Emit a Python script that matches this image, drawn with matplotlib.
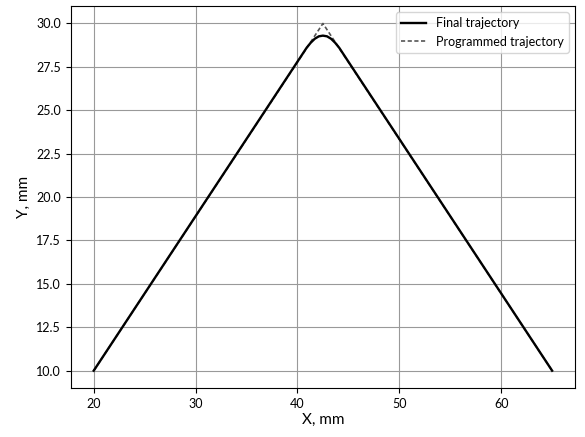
import matplotlib
matplotlib.use("Agg")
import matplotlib.pyplot as plt

plt.rcParams["font.family"] = ["Lato", "DejaVu Sans"]

# ── Datos ────────────────────────────────────────────────────────────────────
prog_x = [20.0, 42.5, 65.0]
prog_y = [10.0, 30.0, 10.0]

final_x = [20.0, 40.9, 41.3, 41.7, 42.1, 42.5, 42.9, 43.3, 43.7, 44.1, 65.0]
final_y = [10.0, 28.60, 28.89, 29.12, 29.26, 29.30, 29.26, 29.12, 28.89, 28.60, 10.0]

y_ticks = [10.0, 12.5, 15.0, 17.5, 20.0, 22.5, 25.0, 27.5, 30.0]

# ── Grafico ──────────────────────────────────────────────────────────────────
fig = plt.figure(figsize=(5.85, 4.37), dpi=100)
ax = fig.add_axes([0.121, 0.112, 0.862, 0.874])

ax.plot(final_x, final_y, color="black", linewidth=1.7, label="Final trajectory", zorder=3)
ax.plot(prog_x, prog_y, color="#555555", linewidth=1.2, linestyle="--",
        dashes=(2.5, 1.5), label="Programmed trajectory", zorder=2)

ax.set_xlabel("X, mm", fontsize=11, labelpad=2)
ax.set_ylabel("Y, mm", fontsize=11)
ax.set_yticks(y_ticks)
ax.tick_params(labelsize=9)
ax.grid(True, color="#999999", linewidth=0.8)
ax.legend(loc="upper right", fontsize=9)

plt.savefig("out.png", dpi=100)
plt.close()
